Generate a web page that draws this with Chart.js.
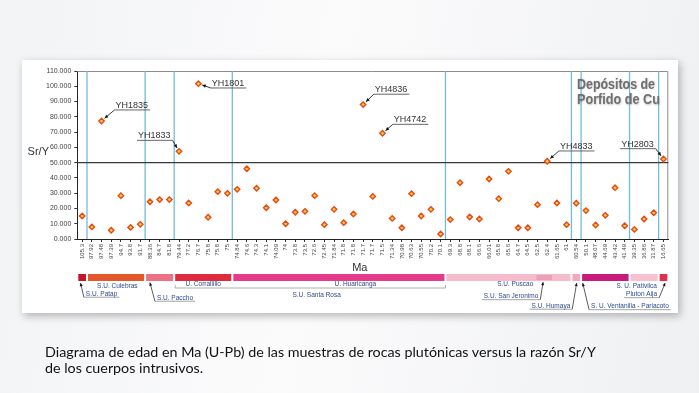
<!DOCTYPE html>
<html>
<head>
<meta charset="utf-8">
<script src="https://cdn.jsdelivr.net/npm/chart.js@4"></script>
<style>
  html, body { margin: 0; padding: 0; }
  body {
    width: 699px; height: 393px; overflow: hidden; position: relative;
    background: linear-gradient(100deg, #f2f3f5 0%, #fbfbfc 45%, #eff0f2 100%);
    font-family: Lato, "Liberation Sans", sans-serif;
  }
  #card { position: absolute; left: 22px; top: 60px; width: 656px; height: 253px;
    background: #fff; box-shadow: 2px 3px 8px rgba(0,0,0,0.28); }
  #chart { position: absolute; left: 0; top: 0; }
  #caption { position: absolute; left: 45px; top: 344px; font-size: 14.3px; line-height: 16px; color: #111; }
</style>
</head>
<body>
<div id="card"></div>
<canvas id="chart" width="699" height="393"></canvas>
<div id="caption">Diagrama de edad en Ma (U-Pb) de las muestras de rocas plutónicas versus la razón Sr/Y<br>de los cuerpos intrusivos.</div>
<script>
// U-Pb ages (Ma), one category per sample
const ages = ['105.3','97.92','97.48','97.39','94.7','93.8','91.7','88.36','84.7','81.8',
  '79.44','77.2','76.7','75.8','75.8','75','74.84','74.6','74.3','74.1',
  '74.09','74','73.8','73.5','72.6','72.45','71.84','71.8','71.8','71.7',
  '71.7','71.5','71.34','70.98','70.63','70.55','70.2','70.1','69.3','68.8',
  '68.1','66.6','66.01','65.8','65.6','64.7','64.5','62.5','62.4','61.65',
  '61','60.54','50.1','48.07','44.69','43.42','41.49','39.35','36.86','31.87','16.65'];

// Sr/Y ratio
const srY = [15.1, 7.9, 77.3, 5.7, 28.4, 7.6, 9.6, 24.4, 25.8, 25.8,
  57.4, 23.6, 101.7, 14.2, 31.0, 29.9, 32.5, 46.0, 33.2, 20.5,
  25.5, 10.0, 17.5, 18.1, 28.4, 9.4, 19.4, 10.7, 16.4, 88.0,
  27.9, 69.2, 13.5, 7.4, 29.7, 15.1, 19.4, 3.3, 12.7, 36.9,
  14.4, 13.1, 39.3, 26.4, 44.3, 7.4, 7.4, 22.5, 50.9, 23.6,
  9.4, 23.4, 18.6, 9.2, 15.5, 33.6, 8.7, 6.3, 13.1, 17.2, 52.4];

const threshold = 50;

// labelled samples
const sampleNames = ['YH1835', 'YH1833', 'YH1801', 'YH4836', 'YH4742', 'YH4833', 'YH2803'];
const sampleIdx = [2, 10, 12, 29, 31, 48, 60];

// intrusive units along the age axis (category index limits)
const unitFrom = [-0.5, 0.5, 6.5, 9.5, 15.5, 37.5, 50.5, 51.5, 56.5, 59.5];
const unitTo = [0.5, 6.5, 9.5, 15.5, 37.5, 50.5, 51.5, 56.5, 59.5, 60.5];
const jeronimoFrom = 46.9, jeronimoTo = 48.5;

const unitNames = ['S.U. Patap', 'S.U. Culebras', 'S.U. Paccho', 'U. Corrallillo', 'U. Huaricanga',
  'S.U. Santa Rosa', 'S.U. Puscao', 'S.U. San Jeronimo', 'S.U. Humaya',
  'S. U. Ventanilla - Pariacoto', 'S. U. Pativilca', 'Pluton Aija'];

// styles
const unitColors = ['#c4162a', '#e2582a', '#ea7283', '#e02a3e', '#e63b8a', '#f6bccb', '#f3a9bd', '#c81b7c', '#f7c1cf', '#e2314f'];
const jeronimoColor = '#eb9fbb';

// label placement: anchor category, px offsets from anchor / bar top
const unitLabelPos = [
  { at: 0, dx: 3.7, dy: 21.5, align: 'left', tip: [-1.6, 9] },
  { at: 3.5, dx: 1.3, dy: 13.5, align: 'center' },
  { at: 6.5, dx: 11.8, dy: 25.5, align: 'left', tip: [4.8, 8.5] },
  { at: 12.5, dx: 0, dy: 12, align: 'center' },
  { at: 28.2, dx: 0, dy: 12, align: 'center' },
  { at: 24.2, dx: 0, dy: 22.5, align: 'center' },
  { at: 44.7, dx: 0, dy: 11.5, align: 'center' },
  { at: 47.7, dx: -6, dy: 24, align: 'right', tip: [-1.2, 8] },
  { at: 51, dx: -6, dy: 33.5, align: 'right', tip: [0.4, 9] },
  { at: 51.5, dx: 10, dy: 34, align: 'left', tip: [1.6, 9] },
  { at: 58, dx: 12.8, dy: 13.5, align: 'right' },
  { at: 60, dx: -6.3, dy: 22, align: 'right', tip: [1.7, 9] }
];

// sample label offsets from the point: text left, underline y, leader end
const sampleLabelPos = [
  { dx: 14, dy: -11, from: 'left' },
  { dx: -41, dy: -11, from: 'right' },
  { dx: 13.3, dy: 4.3, from: 'left' },
  { dx: 11.7, dy: -10.4, from: 'left' },
  { dx: 11.3, dy: -9, from: 'left' },
  { dx: 12.7, dy: -10.3, from: 'left' },
  { dx: -42.3, dy: -10.3, from: 'right' }
];

function seg(ctx, x0, y0, x1, y1) {
  ctx.beginPath(); ctx.moveTo(x0, y0); ctx.lineTo(x1, y1); ctx.stroke();
}

function arrow(ctx, x0, y0, x1, y1, size) {
  seg(ctx, x0, y0, x1, y1);
  const ang = Math.atan2(y1 - y0, x1 - x0);
  ctx.beginPath();
  ctx.moveTo(x1, y1);
  ctx.lineTo(x1 - size * Math.cos(ang - 0.45), y1 - size * Math.sin(ang - 0.45));
  ctx.lineTo(x1 - size * Math.cos(ang + 0.45), y1 - size * Math.sin(ang + 0.45));
  ctx.closePath();
  ctx.fill();
}

const overlay = {
  id: 'overlay',
  beforeDatasetsDraw(chart) {
    const { ctx, chartArea: a, scales: { x, y } } = chart;
    ctx.save();
    // frame
    ctx.strokeStyle = '#8c8c8c'; ctx.lineWidth = 1;
    ctx.beginPath();
    ctx.moveTo(a.left, a.top + 0.5); ctx.lineTo(a.right - 0.5, a.top + 0.5); ctx.lineTo(a.right - 0.5, a.bottom);
    ctx.stroke();
    // unit boundaries
    ctx.strokeStyle = '#72bcd9'; ctx.lineWidth = 1.3;
    unitTo.slice(0, -1).forEach(v => {
      const px = x.getPixelForValue(v);
      seg(ctx, px, a.top, px, a.bottom);
    });
    // Sr/Y = 50 line
    const py = y.getPixelForValue(threshold);
    ctx.strokeStyle = '#3a3a3a'; ctx.lineWidth = 1.2;
    seg(ctx, a.left, py, a.right, py);
    ctx.restore();
  },
  afterDraw(chart) {
    const { ctx, chartArea: a, scales: { x, y } } = chart;
    ctx.save();

    // axis titles
    ctx.fillStyle = '#333';
    ctx.font = '11px "Liberation Sans", Arial, sans-serif';
    ctx.textAlign = 'center'; ctx.textBaseline = 'middle';
    ctx.fillText('Sr/Y', a.left - 39, (a.top + a.bottom) / 2 - 3);
    ctx.fillText('Ma', a.left + (a.right - a.left) * 0.478, a.bottom + 29);

    // deposit note
    ctx.font = 'bold 15px "Liberation Sans", Arial, sans-serif';
    ctx.textAlign = 'left'; ctx.textBaseline = 'alphabetic';
    ctx.fillStyle = '#6f6f6f';
    ctx.shadowColor = 'rgba(0,0,0,0.25)'; ctx.shadowBlur = 2; ctx.shadowOffsetX = 0.5; ctx.shadowOffsetY = 0.5;
    [['Depósitos de', 17.5, 78], ['Porfido de Cu', 33, 83]].forEach(([t, dy, w]) => {
      const m = ctx.measureText(t).width;
      ctx.save();
      ctx.translate(a.right - 91.3, a.top + dy);
      ctx.scale(w / m, 1);
      ctx.fillText(t, 0, 0);
      ctx.restore();
    });
    ctx.shadowColor = 'transparent';

    // sample labels with leaders
    ctx.font = '9px "Liberation Sans", Arial, sans-serif';
    ctx.lineWidth = 0.9;
    sampleNames.forEach((name, i) => {
      const px = x.getPixelForValue(sampleIdx[i]);
      const py = y.getPixelForValue(srY[sampleIdx[i]]);
      const p = sampleLabelPos[i];
      const tx = px + p.dx, uy = py + p.dy;
      const w = ctx.measureText(name).width;
      ctx.fillStyle = '#333';
      ctx.fillText(name, tx, uy - 2);
      ctx.strokeStyle = '#555';
      seg(ctx, tx - 1, uy, tx + w + 2, uy);
      const sx = p.from === 'left' ? tx - 1 : tx + w + 2;
      const d = Math.hypot(px - sx, py - uy);
      const ex = px + (sx - px) / d * 4, ey = py + (uy - py) / d * 4;
      ctx.strokeStyle = '#222'; ctx.fillStyle = '#111';
      arrow(ctx, sx, uy, ex, ey, 4);
    });

    // unit bars
    const barTop = a.bottom + 35, barH = 7;
    unitFrom.forEach((v, i) => {
      const x0 = x.getPixelForValue(v) + 1, x1 = x.getPixelForValue(unitTo[i]) - 1;
      ctx.fillStyle = unitColors[i];
      ctx.fillRect(x0, barTop, x1 - x0, barH);
    });
    ctx.fillStyle = jeronimoColor;
    const j0 = x.getPixelForValue(jeronimoFrom), j1 = x.getPixelForValue(jeronimoTo);
    ctx.fillRect(j0, barTop + 1, j1 - j0, barH - 2);

    // bracket under U. Corrallillo .. U. Huaricanga
    ctx.strokeStyle = '#9a9a9a'; ctx.lineWidth = 0.8;
    const b0 = x.getPixelForValue(9.5) + 1, b1 = x.getPixelForValue(37.5);
    const by = barTop + 14;
    ctx.beginPath();
    ctx.moveTo(b0, by - 3); ctx.lineTo(b0, by); ctx.lineTo(b1, by); ctx.lineTo(b1, by - 3);
    ctx.stroke();

    // unit labels
    ctx.font = '6.5px "Liberation Sans", Arial, sans-serif';
    unitNames.forEach((name, i) => {
      const p = unitLabelPos[i];
      const ax = x.getPixelForValue(p.at);
      const tx = ax + p.dx, ty = barTop + p.dy;
      ctx.textAlign = p.align;
      ctx.fillStyle = '#2c4a8c';
      ctx.fillText(name, tx, ty);
      if (p.tip) {
        const w = ctx.measureText(name).width;
        const left = p.align === 'left' ? tx : tx - w;
        const uy = ty + 1.7;
        ctx.strokeStyle = '#8a8a8a'; ctx.lineWidth = 0.8;
        seg(ctx, left - 2, uy, left + w + 2, uy);
        const sx = p.align === 'left' ? left - 2 : left + w + 2;
        ctx.strokeStyle = '#333'; ctx.fillStyle = '#111';
        arrow(ctx, sx, uy, ax + p.tip[0], barTop + p.tip[1], 3.5);
      }
    });
    ctx.restore();
  }
};

new Chart(document.getElementById('chart'), {
  type: 'line',
  data: {
    labels: ages,
    datasets: [{
      data: srY,
      showLine: false,
      pointStyle: 'rectRot',
      pointRadius: 2.7,
      pointBackgroundColor: '#ffcf3a',
      pointBorderColor: '#e5481c',
      pointBorderWidth: 1.4
    }]
  },
  options: {
    responsive: false,
    animation: false,
    layout: { padding: { top: 71, right: 30.7, left: 0, bottom: 0 } },
    plugins: { legend: { display: false }, tooltip: { enabled: false } },
    scales: {
      x: {
        offset: true,
        afterFit: s => { s.height = 154; },
        grid: { drawOnChartArea: false, tickLength: 3, color: '#333' },
        border: { color: '#222', width: 1 },
        ticks: {
          autoSkip: false, maxRotation: 90, minRotation: 90, padding: 2,
          color: '#444', font: { size: 6, family: '"Liberation Sans", Arial, sans-serif' }
        }
      },
      y: {
        min: 0, max: 110,
        afterFit: s => { s.width = 77.3; },
        grid: { drawOnChartArea: false, tickLength: 3, color: '#333' },
        border: { color: '#222', width: 1 },
        ticks: {
          stepSize: 10, padding: 3, color: '#444',
          font: { size: 7, family: '"Liberation Sans", Arial, sans-serif' },
          callback: v => v.toFixed(3)
        }
      }
    }
  },
  plugins: [overlay]
});
</script>
</body>
</html>
